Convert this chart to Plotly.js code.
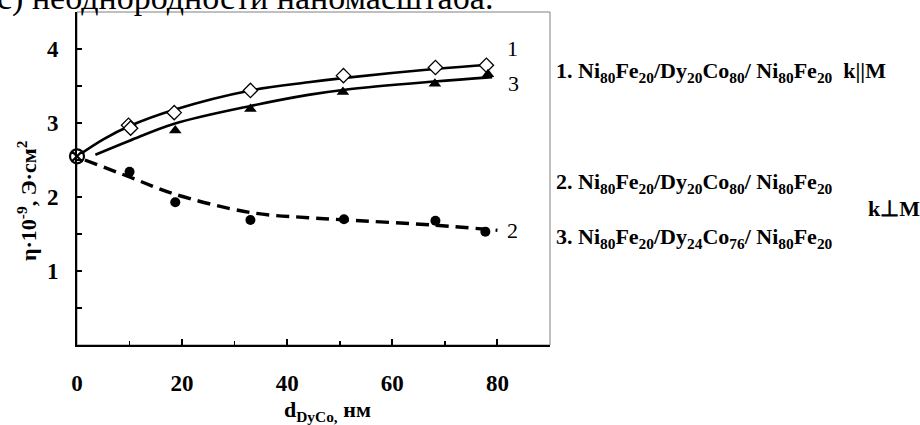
<!DOCTYPE html>
<html>
<head>
<meta charset="utf-8">
<script src="https://cdn.plot.ly/plotly-3.0.1.min.js"></script>
<style>
  html, body { margin: 0; padding: 0; background: #fff; }
  #chart { width: 920px; height: 425px; }
</style>
</head>
<body>
<div id="chart"></div>
<script>
// Measured points: thickness of the DyCo layer (nm) vs eta (10^-9 Oe·cm^2)
const startX = [0];
const startY = [2.55];

const s1X = [9.8, 10.2, 18.5, 33.0, 50.7, 68.2, 77.9];
const s1Y = [2.97, 2.93, 3.14, 3.44, 3.64, 3.75, 3.78];

const s2X = [10.0, 18.7, 33.0, 50.8, 68.2, 77.7];
const s2Y = [2.34, 1.93, 1.69, 1.70, 1.68, 1.53];

const s3X = [18.7, 33.0, 50.6, 68.1, 78.2];
const s3Y = [2.90, 3.19, 3.42, 3.53, 3.66];

// Smooth trend curves through each series
const c1X = [0, 5, 10, 18.5, 33, 44, 51, 68, 79];
const c1Y = [2.55, 2.78, 2.96, 3.18, 3.44, 3.55, 3.61, 3.73, 3.79];

const c3X = [3.5, 10, 18.5, 33, 44, 51, 68, 79];
const c3Y = [2.57, 2.76, 2.99, 3.23, 3.38, 3.45, 3.56, 3.62];

const c2X = [1.5, 10, 18.5, 33, 44, 51, 68, 80];
const c2Y = [2.50, 2.27, 2.04, 1.79, 1.72, 1.69, 1.62, 1.55];

// Axis ticks
const xTickVals = [0, 20, 40, 60, 80];
const xTickText = ['0', '20', '40', '60', '80'];
const yTickVals = [1, 2, 3, 4];
const yTickText = ['1', '2', '3', '4'];
const yMinorVals = [0.5, 1.5, 2.5, 3.5];

// Text
const headText = 'с) неоднородности наномасштаба.';
const yTitle = '<b>η·10<sup>-9</sup>, Э·см<sup>2</sup></b>';
const xTitle = '<b>d<sub>DyCo,</sub> нм</b>';
const seriesTags = ['1', '2', '3'];
const legendLines = [
  '<b>1. Ni<sub>80</sub>Fe<sub>20</sub>/Dy<sub>20</sub>Co<sub>80</sub>/ Ni<sub>80</sub>Fe<sub>20</sub>  k||M</b>',
  '<b>2. Ni<sub>80</sub>Fe<sub>20</sub>/Dy<sub>20</sub>Co<sub>80</sub>/ Ni<sub>80</sub>Fe<sub>20</sub></b>',
  '<b>3. Ni<sub>80</sub>Fe<sub>20</sub>/Dy<sub>24</sub>Co<sub>76</sub>/ Ni<sub>80</sub>Fe<sub>20</sub></b>',
  '<b>k⊥M</b>'
];

const serif = '"Liberation Serif", "Times New Roman", serif';

const traces = [
  { x: c1X, y: c1Y, mode: 'lines', line: { color: '#000', width: 2.6, shape: 'spline', smoothing: 1 }, hoverinfo: 'skip' },
  { x: c3X, y: c3Y, mode: 'lines', line: { color: '#000', width: 2.6, shape: 'spline', smoothing: 1 }, hoverinfo: 'skip' },
  { x: c2X, y: c2Y, mode: 'lines', line: { color: '#000', width: 3.4, dash: '13px,7px', shape: 'spline', smoothing: 1 }, hoverinfo: 'skip' },
  { x: s1X, y: s1Y, mode: 'markers', cliponaxis: false, marker: { symbol: 'diamond', size: 11, color: '#fff', line: { color: '#000', width: 1.3 } } },
  { x: s3X, y: s3Y, mode: 'markers', cliponaxis: false, marker: { symbol: 'triangle-up', size: 11, color: '#000', line: { width: 0 } } },
  { x: s2X, y: s2Y, mode: 'markers', cliponaxis: false, marker: { symbol: 'circle', size: 10, color: '#000', line: { width: 0 } } },
  { x: startX, y: startY, mode: 'markers', cliponaxis: false, marker: { symbol: 'circle-x', size: 14, color: '#fff', line: { color: '#000', width: 2.2 } } }
];

function legendNote(text, px, py) {
  return { xref: 'paper', yref: 'paper', x: (px - 77) / 473, y: (345 - py) / 333,
           xanchor: 'left', yanchor: 'middle', showarrow: false, text: text,
           font: { family: serif, size: 22, color: '#000' } };
}

const annotations = [
  { xref: 'paper', yref: 'paper', x: (-5 - 77) / 473, y: (345 + 2) / 333, xanchor: 'left', yanchor: 'middle',
    showarrow: false, text: headText, font: { family: serif, size: 34, color: '#000' } },
  { xref: 'paper', yref: 'paper', x: (27 - 77) / 473, y: (345 - 201) / 333, xanchor: 'center', yanchor: 'middle',
    textangle: -90, showarrow: false, text: yTitle, font: { family: serif, size: 22, color: '#000' } },
  { xref: 'paper', yref: 'paper', x: (327 - 77) / 473, y: (345 - 411) / 333, xanchor: 'center', yanchor: 'middle',
    showarrow: false, text: xTitle, font: { family: serif, size: 22, color: '#000' } },
  { xref: 'x', yref: 'y', x: 82.9, y: 4.01, showarrow: false, text: seriesTags[0], font: { family: serif, size: 22, color: '#000' } },
  { xref: 'x', yref: 'y', x: 83.0, y: 3.54, showarrow: false, text: seriesTags[2], font: { family: serif, size: 22, color: '#000' } },
  { xref: 'x', yref: 'y', x: 82.9, y: 1.55, showarrow: false, text: seriesTags[1], font: { family: serif, size: 22, color: '#000' } },
  legendNote(legendLines[0], 554, 72),
  legendNote(legendLines[1], 554, 183),
  legendNote(legendLines[2], 554, 238),
  legendNote(legendLines[3], 866, 208)
];

const layout = {
  width: 920, height: 425,
  margin: { l: 77, r: 370, t: 12, b: 80, pad: 0 },
  paper_bgcolor: '#fff', plot_bgcolor: '#fff',
  showlegend: false,
  font: { family: serif, color: '#000' },
  xaxis: {
    range: [0, 90], showgrid: false, zeroline: false,
    showline: true, linecolor: '#000', linewidth: 2,
    tickmode: 'array', tickvals: xTickVals, ticktext: xTickText,
    ticks: 'inside', ticklen: 6, tickwidth: 2, tickcolor: '#000',
    minor: { tickmode: 'linear', tick0: 0, dtick: 10, ticks: 'inside', ticklen: 4, tickwidth: 1.5, tickcolor: '#000' },
    tickfont: { family: serif, size: 23, color: '#000', weight: 'bold' },
    ticklabelstandoff: 16
  },
  yaxis: {
    range: [0, 4.5], showgrid: false, zeroline: false,
    showline: true, linecolor: '#000', linewidth: 2,
    tickmode: 'array', tickvals: yTickVals, ticktext: yTickText,
    ticks: 'inside', ticklen: 5, tickwidth: 1.5, tickcolor: '#000',
    minor: { tickmode: 'array', tickvals: yMinorVals, ticks: 'inside', ticklen: 5, tickwidth: 1.5, tickcolor: '#000' },
    tickfont: { family: serif, size: 23, color: '#000', weight: 'bold' },
    ticklabelstandoff: 12
  },
  shapes: [
    { type: 'rect', xref: 'paper', yref: 'paper', x0: 0, x1: 1, y0: 0, y1: 1,
      line: { color: '#808080', width: 1 }, layer: 'below' }
  ],
  annotations: annotations
};

Plotly.newPlot('chart', traces, layout, { displayModeBar: false, staticPlot: true });
</script>
</body>
</html>
